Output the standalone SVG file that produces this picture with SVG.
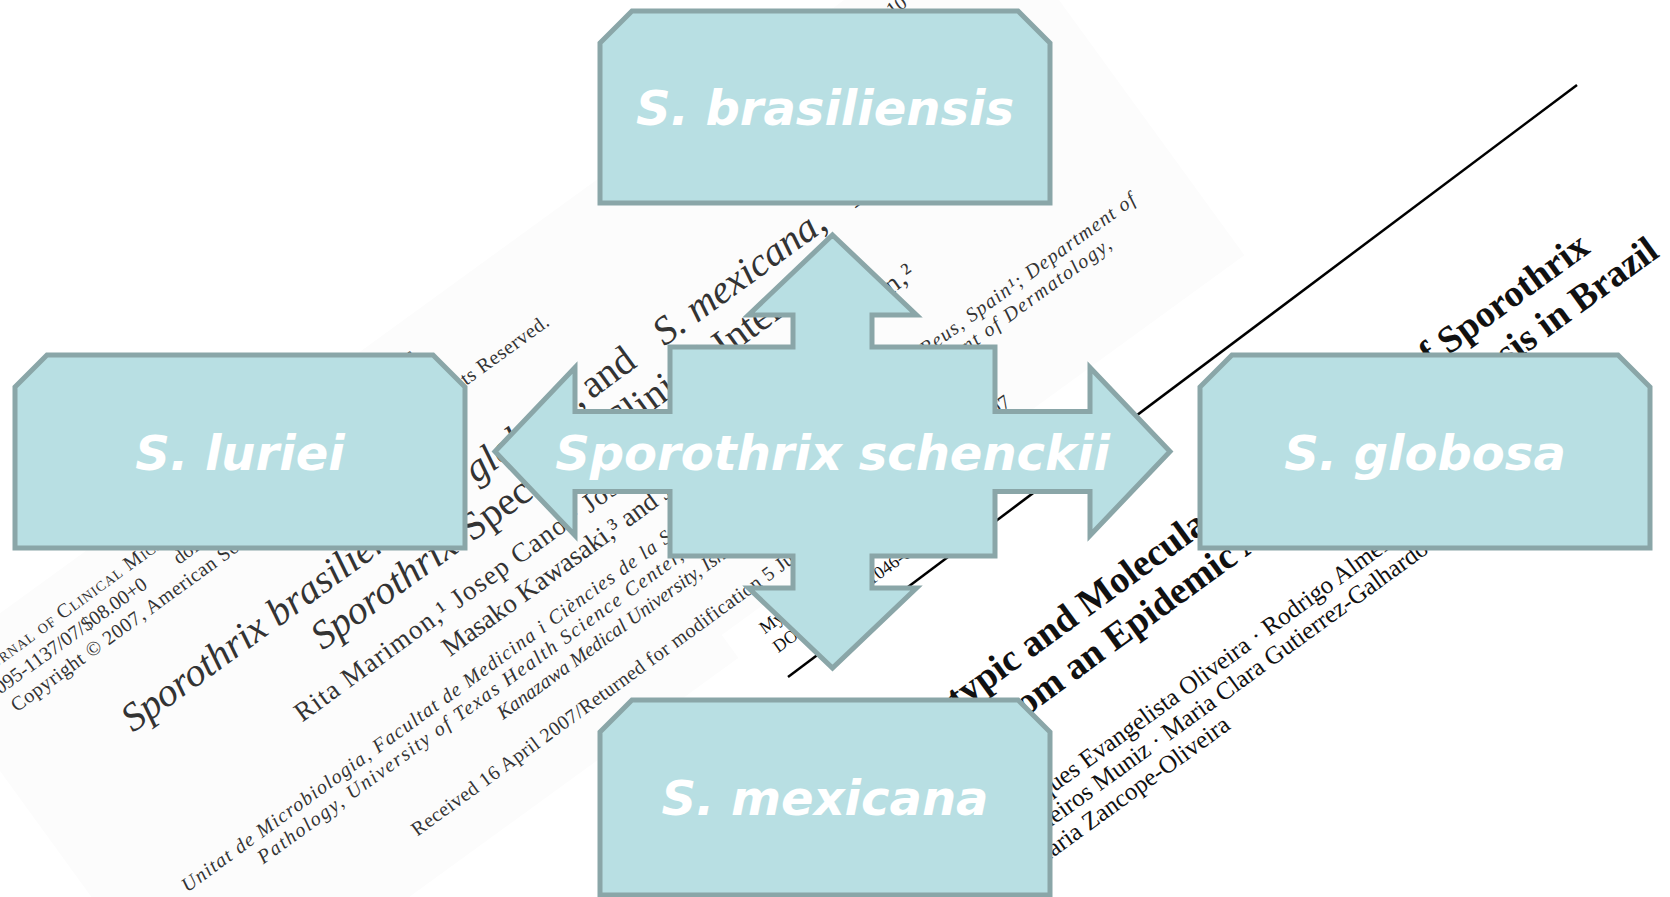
<svg xmlns="http://www.w3.org/2000/svg" width="1670" height="897" viewBox="0 0 1670 897">
<style>
.scan{font-family:"Liberation Serif","Times New Roman",serif;fill:#333}
.scanR{font-family:"Liberation Serif","Times New Roman",serif;fill:#111}
.s20{font-size:20px}
.s18{font-size:18px}
.it{font-style:italic}
.t40{font-size:40px}
.a27{font-size:27px}
.b38{font-size:38px;font-weight:bold}
.a25{font-size:25px}
.box{fill:#b8dfe3;stroke:#8aa6a8;stroke-width:5;stroke-linejoin:miter}
.lbl{font-family:"DejaVu Sans",Verdana,sans-serif;font-weight:bold;font-style:italic;font-size:48px;fill:#fff;text-anchor:middle}
</style>
<rect width="1670" height="897" fill="#fff"/>
<g id="paper-left" transform="translate(133 733) rotate(-36)">
<rect x="-130" y="-175" width="1310" height="470" fill="#fcfcfc"/>
<text class="scan s20" x="-95" y="-133" font-variant="small-caps" textLength="545">Journal of Clinical Microbiology, Oct. 2007, p. 3198–3206</text>
<text class="scan s20" x="1055" y="-133" text-anchor="end">Vol. 45, No. 10</text>
<text class="scan s20" x="-95" y="-109">0095-1137/07/$08.00+0<tspan x="136">doi:10.1128/JCM.00808-07</tspan></text>
<text class="scan s20" x="-82" y="-85" textLength="660">Copyright © 2007, American Society for Microbiology. All Rights Reserved.</text>
<text class="scan t40" y="0"><tspan x="0" class="it">Sporothrix brasiliensis, S. globosa,</tspan><tspan x="567">and</tspan><tspan x="657" class="it">S. mexicana,</tspan><tspan x="887">Three New</tspan></text>
<text class="scan t40" y="45"><tspan x="202" class="it">Sporothrix</tspan><tspan x="386">Species of Clinical Interest</tspan></text>
<text class="scan a27" x="143" y="91" textLength="759">Rita Marimon,¹ Josep Cano,¹ Josepa Gené,¹ Deanna A. Sutton,²</text>
<text class="scan a27" x="301" y="125">Masako Kawasaki,³ and Josep Guarro¹*</text>
<text class="scan s20 it" x="-50" y="161" textLength="1174">Unitat de Microbiologia, Facultat de Medicina i Ciències de la Salut, Universitat Rovira i Virgili, Reus, Spain¹; Department of</text>
<text class="scan s20 it" x="28" y="183" textLength="1050">Pathology, University of Texas Health Science Center, San Antonio, Texas²; and Department of Dermatology,</text>
<text class="scan s20 it" x="307" y="207">Kanazawa Medical University, Ishikawa, Japan³</text>
<text class="scan s20" x="169" y="251" textLength="735">Received 16 April 2007/Returned for modification 5 June 2007/Accepted 24 July 2007</text>
</g>
<g id="paper-right" transform="translate(857 753) rotate(-36)">
<rect x="-40" y="-175" width="1140" height="625" fill="#fff"/>
<text class="scanR s18" x="-5" y="-150">Mycopathologia (2011) 172:257–267</text>
<text class="scanR s18" x="-5" y="-127">DOI 10.1007/s11046-011-9437-3</text>
<text class="scanR b38" x="5" y="26">Phenotypic and Molecular Identification of Sporothrix</text>
<text class="scanR b38" x="-3" y="70">Isolates from an Epidemic Area of Sporotrichosis in Brazil</text>
<text class="scanR a25" x="0" y="148">Manoel Marques Evangelista Oliveira · Rodrigo Almeida-Paes ·</text>
<text class="scanR a25" x="0" y="174">Mauro Medeiros Muniz · Maria Clara Gutierrez-Galhardo ·</text>
<text class="scanR a25" x="0" y="200">Rosely Maria Zancope-Oliveira</text>
</g>
<line x1="788" y1="677" x2="1577" y2="85" stroke="#000" stroke-width="2.5"/>
<g id="connectors"></g>
<g id="node-brasiliensis"><path class="box" d="M632 11H1018L1050 43V203H600V43Z"/><text class="lbl" x="825" y="125">S. brasiliensis</text></g>
<g id="node-luriei"><path class="box" d="M47 355H433L465 387V548H15V387Z"/><text class="lbl" x="240" y="470">S. luriei</text></g>
<g id="node-globosa"><path class="box" d="M1232 355H1618L1650 387V548H1200V387Z"/><text class="lbl" x="1425" y="470">S. globosa</text></g>
<g id="node-mexicana"><path class="box" d="M632 700H1018L1050 732V895H600V732Z"/><text class="lbl" x="825" y="815">S. mexicana</text></g>
<g id="node-schenckii"><path class="box" d="M832.5 235L916.5 315H872V347H995V411.5H1090V367.5L1170 451.5L1090 535.5V491.5H995V556H872V588H916.5L832.5 668L748.5 588H793V556H670V491.5H575V535.5L495 451.5L575 367.5V411.5H670V347H793V315H748.5Z"/><text class="lbl" x="832.5" y="470">Sporothrix schenckii</text></g>
</svg>
